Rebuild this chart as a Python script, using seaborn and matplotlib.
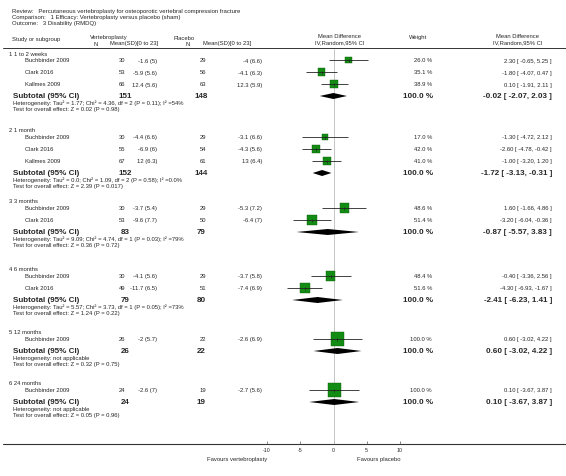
import numpy as np
import pandas as pd
import seaborn as sns
import matplotlib.pyplot as plt

# ---- data ----
groups = ["1 1 to 2 weeks", "2 1 month", "3 3 months", "4 6 months", "5 12 months", "6 24 months"]
study_group = [0, 0, 0, 1, 1, 1, 2, 2, 3, 3, 4, 5]
studies = ["Buchbinder 2009", "Clark 2016", "Kallmes 2009",
           "Buchbinder 2009", "Clark 2016", "Kallmes 2009",
           "Buchbinder 2009", "Clark 2016",
           "Buchbinder 2009", "Clark 2016",
           "Buchbinder 2009",
           "Buchbinder 2009"]
vp_n = [30, 53, 66, 30, 55, 67, 30, 53, 30, 49, 26, 24]
vp_mean = [-1.6, -5.9, 12.4, -4.4, -6.9, 12, -3.7, -9.6, -4.1, -11.7, -2, -2.6]
vp_sd = [5, 5.6, 5.6, 6.6, 6, 6.3, 5.4, 7.7, 5.6, 6.5, 5.7, 7]
pl_n = [29, 56, 63, 29, 54, 61, 29, 50, 29, 51, 22, 19]
pl_mean = [-4, -4.1, 12.3, -3.1, -4.3, 13, -5.3, -6.4, -3.7, -7.4, -2.6, -2.7]
pl_sd = [6.6, 6.3, 5.9, 6.6, 5.6, 6.4, 7.2, 7, 5.8, 6.9, 6.9, 5.6]
weight = [26.0, 35.1, 38.9, 17.0, 42.0, 41.0, 48.6, 51.4, 48.4, 51.6, 100.0, 100.0]
md = [2.30, -1.80, 0.10, -1.30, -2.60, -1.00, 1.60, -3.20, -0.40, -4.30, 0.60, 0.10]
md_lo = [-0.65, -4.07, -1.91, -4.72, -4.78, -3.20, -1.66, -6.04, -3.36, -6.93, -3.02, -3.67]
md_hi = [5.25, 0.47, 2.11, 2.12, -0.42, 1.20, 4.86, -0.36, 2.56, -1.67, 4.22, 3.87]

sub_vp_n = [151, 152, 83, 79, 26, 24]
sub_pl_n = [148, 144, 79, 80, 22, 19]
sub_md = [-0.02, -1.72, -0.87, -2.41, 0.60, 0.10]
sub_lo = [-2.07, -3.13, -5.57, -6.23, -3.02, -3.67]
sub_hi = [2.03, -0.31, 3.83, 1.41, 4.22, 3.87]
heterogeneity = [
    "Heterogeneity: Tau² = 1.77; Chi² = 4.36, df = 2 (P = 0.11); I² =54%",
    "Heterogeneity: Tau² = 0.0; Chi² = 1.09, df = 2 (P = 0.58); I² =0.0%",
    "Heterogeneity: Tau² = 9.09; Chi² = 4.74, df = 1 (P = 0.03); I² =79%",
    "Heterogeneity: Tau² = 5.57; Chi² = 3.73, df = 1 (P = 0.05); I² =73%",
    "Heterogeneity: not applicable",
    "Heterogeneity: not applicable",
]
overall = [
    "Test for overall effect: Z = 0.02 (P = 0.98)",
    "Test for overall effect: Z = 2.39 (P = 0.017)",
    "Test for overall effect: Z = 0.36 (P = 0.72)",
    "Test for overall effect: Z = 1.24 (P = 0.22)",
    "Test for overall effect: Z = 0.32 (P = 0.75)",
    "Test for overall effect: Z = 0.05 (P = 0.96)",
]
x_ticks = [-10, -5, 0, 5, 10]

# ---- layout (pixel rows from top) ----
W, H = 566, 477
group_top = [54, 131, 202, 270, 333, 384]
row_step = 12
axis_y = 445

study_y = []
sub_y = []
for g, top in enumerate(group_top):
    n = study_group.count(g)
    study_y += [top + 7 + row_step * i for i in range(n)]
    sub_y.append(top + 7 + row_step * n)

sns.set_style("white")
plt.rcParams['font.family'] = ['Liberation Sans', 'DejaVu Sans']

fig = plt.figure(figsize=(W / 100, H / 100), dpi=100)
ax = fig.add_axes([0, 0, 1, 1])
ax.set_xlim(0, W)
ax.set_ylim(H, 0)
ax.axis("off")

small = 4.2
tiny = 4.2
bold = 5.8

# header
ax.text(12, 11, "Review:   Percutaneous vertebroplasty for osteoporotic vertebral compression fracture", size=4.3, va="center")
ax.text(12, 17, "Comparison:   1 Efficacy: Vertebroplasty versus placebo (sham)", size=4.3, va="center")
ax.text(12, 23, "Outcome:   3 Disability (RMDQ)", size=4.3, va="center")
ax.text(12, 39, "Study or subgroup", size=small, va="center")
ax.text(90, 38, "Vertebroplasty", size=small, va="center")
ax.text(96, 44, "N", size=small, va="center", ha="center")
ax.text(110, 44, "Mean(SD)[0 to 23]", size=small, va="center")
ax.text(173, 38, "Placebo", size=small, va="center")
ax.text(188, 44, "N", size=small, va="center", ha="center")
ax.text(203, 44, "Mean(SD)[0 to 23]", size=small, va="center")
ax.text(340, 37, "Mean Difference", size=small, va="center", ha="center")
ax.text(340, 43, "IV,Random,95% CI", size=small, va="center", ha="center")
ax.text(418, 37, "Weight", size=small, va="center", ha="center")
ax.text(518, 37, "Mean Difference", size=small, va="center", ha="center")
ax.text(518, 43, "IV,Random,95% CI", size=small, va="center", ha="center")
ax.plot([3, W], [49, 49], color="#333333", lw=0.7)
ax.plot([3, W], [axis_y, axis_y], color="#333333", lw=0.8)

# study rows
for i, y in enumerate(study_y):
    ax.text(25, y, studies[i], size=small, va="center")
    ax.text(122, y, str(vp_n[i]), size=small, va="center", ha="center")
    ax.text(157, y, f"{vp_mean[i]:g} ({vp_sd[i]:g})", size=small, va="center", ha="right")
    ax.text(203, y, str(pl_n[i]), size=small, va="center", ha="center")
    ax.text(262, y, f"{pl_mean[i]:g} ({pl_sd[i]:g})", size=small, va="center", ha="right")
    ax.text(432, y, f"{weight[i]:.1f} %", size=small, va="center", ha="right")
    ax.text(552, y, f"{md[i]:.2f} [ {md_lo[i]:.2f}, {md_hi[i]:.2f} ]", size=small, va="center", ha="right")

# group labels and subtotals
for g, top in enumerate(group_top):
    ys = sub_y[g]
    ax.text(9, top, groups[g], size=small, va="center")
    ax.text(13, ys, "Subtotal (95% CI)", size=bold, weight="bold", va="center")
    ax.text(125, ys, str(sub_vp_n[g]), size=bold, weight="bold", va="center", ha="center")
    ax.text(201, ys, str(sub_pl_n[g]), size=bold, weight="bold", va="center", ha="center")
    ax.text(433, ys, "100.0 %", size=bold, weight="bold", va="center", ha="right")
    ax.text(552, ys, f"{sub_md[g]:.2f} [ {sub_lo[g]:.2f}, {sub_hi[g]:.2f} ]", size=bold,
            weight="bold", va="center", ha="right")
    ax.text(13, ys + 6.5, heterogeneity[g], size=tiny, va="center")
    ax.text(13, ys + 12.5, overall[g], size=tiny, va="center")

ax.text(267, 460, "Favours vertebroplasty", size=small, va="center", ha="right")
ax.text(357, 460, "Favours placebo", size=small, va="center", ha="left")

# ---- forest panel ----
fx0, fx1 = 267, 400
axf = fig.add_axes([fx0 / W, (H - axis_y) / H, (fx1 - fx0) / W, axis_y / H])
axf.patch.set_visible(False)

df = pd.DataFrame({"md": md, "y": study_y, "weight": weight})
sns.scatterplot(data=df, x="md", y="y", size="weight", sizes=(0, 90), size_norm=(0, 100),
                marker="s", color="#138c13", edgecolor="#0b5e0b", linewidth=0.3,
                legend=False, ax=axf, zorder=2)

axf.vlines(0, 50, axis_y, color="#bbbbbb", lw=0.6, zorder=1)
axf.hlines(study_y, md_lo, md_hi, color="#222222", lw=0.6, zorder=3)
axf.vlines(md, np.array(study_y) - 1.5, np.array(study_y) + 1.5, color="#222222", lw=0.5, zorder=3)
for g in range(len(groups)):
    ys = sub_y[g]
    axf.fill([sub_lo[g], sub_md[g], sub_hi[g], sub_md[g]], [ys, ys - 3, ys, ys + 3],
             color="black", lw=0, zorder=3)

axf.set_xlim(-10, 10)
axf.set_ylim(axis_y, 0)
axf.set_xlabel("")
axf.set_ylabel("")
axf.set_yticks([])
axf.set_xticks(x_ticks)
axf.set_xticklabels([str(t) for t in x_ticks])
axf.tick_params(axis="x", direction="in", length=2, width=0.5, color="#555555",
                labelsize=3.8, pad=2.5, bottom=True)
for s in axf.spines.values():
    s.set_visible(False)

plt.savefig("out.png", dpi=100)
